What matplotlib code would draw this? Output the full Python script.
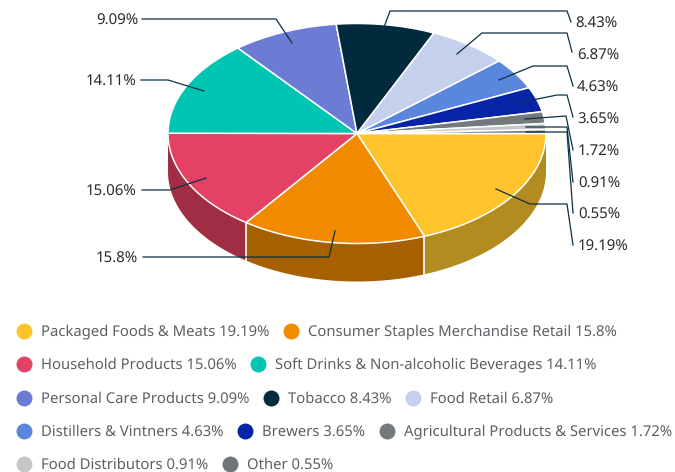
import numpy as np
import matplotlib
matplotlib.use('Agg')
import matplotlib.pyplot as plt

plt.rcParams['font.family'] = ['Noto Sans', 'DejaVu Sans']
plt.rcParams['text.hinting'] = 'none'

categories = ['Packaged Foods & Meats', 'Consumer Staples Merchandise Retail', 'Household Products',
              'Soft Drinks & Non-alcoholic Beverages', 'Personal Care Products', 'Tobacco', 'Food Retail',
              'Distillers & Vintners', 'Brewers', 'Agricultural Products & Services', 'Food Distributors', 'Other']
values = [19.19, 15.8, 15.06, 14.11, 9.09, 8.43, 6.87, 4.63, 3.65, 1.72, 0.91, 0.55]
colors = ['#ffc42c', '#f28a00', '#e44264', '#00c5b2', '#6c7bd3', '#012a3d', '#c5d0ec',
          '#5a86dd', '#0724a6', '#74797c', '#c5c7c6', '#6d7579']
side_colors = ['#b28c1e', '#a66000', '#a02d43']

# pie geometry in pixels
cx, cy, rx, ry, depth = 357, 133.5, 189, 110, 38

# leader lines: points from the slice out to the label, then label anchor
leaders = [
    [(496, 189), (530, 204), (567, 204), (573, 245)],
    [(335, 231), (329, 257), (143, 257)],
    [(206, 178), (170, 190), (142, 190)],
    [(204, 91), (168, 80), (141, 80)],
    [(292, 43), (276, 19), (142, 19)],
    [(383, 30), (390, 11), (567, 11), (571, 22)],
    [(457, 54), (482, 33), (567, 33), (572, 52)],
    [(499, 80), (533, 66), (567, 66), (573, 86)],
    [(518, 103), (557, 95), (567, 95), (573, 117)],
    [(525, 119), (566, 116), (573, 150)],
    [(526, 127), (567, 127), (573, 182)],
    [(526, 132), (567, 132), (573, 213)],
]
label_pos = [(578, 246.5), (138, 258.5), (136, 191.5), (136, 81.5), (138, 20.5), (575, 23.5),
             (577, 55.5), (577, 87.5), (577, 119.5), (578, 151.5), (578, 183.5), (578, 214.5)]
legend_rows = [2, 2, 3, 3, 2]
legend_y = [331, 364, 398, 431, 464]

fig = plt.figure(figsize=(6.75, 4.72), dpi=100)
ax = fig.add_axes([0, 0, 1, 1])
ax.set_xlim(0, 675)
ax.set_ylim(472, 0)
ax.axis('off')

def arc(a0, a1, dy=0):
    t = np.linspace(a0, a1, 80)
    return cx + rx * np.cos(t), cy + dy + ry * np.sin(t)

edges = np.cumsum([0] + values) / sum(values) * 2 * np.pi

# side walls, only the front half shows
for i, col in enumerate(side_colors):
    x0, y0 = arc(edges[i], min(edges[i + 1], np.pi))
    x1, y1 = arc(edges[i], min(edges[i + 1], np.pi), depth)
    ax.fill(np.r_[x0, x1[::-1]], np.r_[y0, y1[::-1]], color=col, lw=0, zorder=1)
for i in [1, 2]:
    x0, y0 = cx + rx * np.cos(edges[i]), cy + ry * np.sin(edges[i])
    ax.plot([x0, x0], [y0, y0 + depth], color='white', lw=1.2, zorder=2)

# top face
for i, col in enumerate(colors):
    x, y = arc(edges[i], edges[i + 1])
    ax.fill(np.r_[cx, x], np.r_[cy, y], facecolor=col, edgecolor='white', lw=1.1, zorder=3, joinstyle='round')

# leaders and labels
for i, pts in enumerate(leaders):
    ax.plot(*zip(*pts), color='#0d3044', lw=0.9, zorder=4, solid_joinstyle='miter')
    tx, ty = label_pos[i]
    ha = 'right' if tx < cx else 'left'
    ax.text(tx, ty, f'{values[i]}%', ha=ha, va='center', fontsize=10.8, color='#2b2b2b', zorder=5)

# legend, flowed left to right
fig.canvas.draw()
rend = fig.canvas.get_renderer()
k = 0
for n, y in zip(legend_rows, legend_y):
    x = 24
    for _ in range(n):
        ax.scatter([x], [y], s=132, color=colors[k], lw=0, zorder=5)
        t = ax.text(x + 17, y + 1, f'{categories[k]} {values[k]}%', ha='left', va='center',
                    fontsize=10.7, color='#5c6064')
        x = x + 17 + t.get_window_extent(rend).width + 21.5
        k += 1

fig.savefig('out.png', dpi=100)
